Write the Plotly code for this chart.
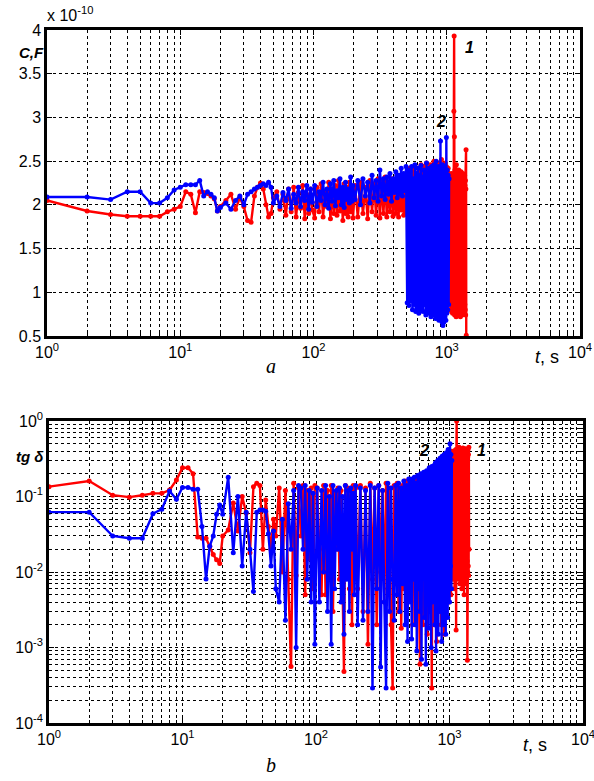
import plotly.graph_objects as go

# ---------------- data ----------------
t_common = [1,2,3,4,5,6,7,8,9,10,11,12,13,14,15,16,17,18,19,20,
            22,24,26,28,30,32,34,36,38,40,42,44,46,48,50,
            53,56,59,62,65,68,71,74,77,80,83,86,89,92,95,98,
            102,106,110,114,118,122,126,130,134,138,142,146,150,154,158,162,166,170,174,178,182,186,190,194,198,
            205,215,225,235,245,255,265,275,285,295,305,315,325,335,345,355,365,375,385,395,405,415,425,435,445,455,465,475,485,495,
            505,513,521,529,537,545,553,561,569,577,585,593,601,609,617,625,633,641,649,657,665,673,681,689,697,705,713,721,729,737,
            745,753,761,769,777,785,793,801,809,817,825,833,841,849,857,865,873,881,889,897,905,913,921,929,937,945,953,961,969,977,
            985,993,1001,1009,1017,1025,1033,1041]
t_red_tail = [1046,1051,1056,1061,1066,1071,1076,1081,1086,1091,1096,1101,1106,1111,1116,1121,1126,1131,1136,1141,
              1146,1151,1156,1161,1166,1171,1176,1181,1186,1191,1196,1201,1206,1211,1216,1221,1226,1231,1236,1241,
              1246,1251,1256,1261,1266,1271,1276,1281,1286,1291,1296,1301,1306,1311,1316,1321,1326,1331,1336,1341,
              1346,1351,1356,1361,1366,1371,1376,1381,1386,1391,1396,1401]
t_blue = t_common
t_red = t_common + t_red_tail

# capacitance, units of 1e-10 F
c_blue = [2.09,2.09,2.06,2.15,2.15,2.02,2.02,2.08,2.17,2.20,2.23,2.23,2.23,2.28,2.10,2.15,2.12,2.08,1.93,1.97,
          2.02,1.95,2.05,2.10,2.00,2.12,2.15,2.18,2.20,2.22,2.24,2.22,2.26,2.20,2.02,
          2.10,1.98,2.14,2.05,2.18,1.96,2.12,2.02,2.20,1.98,2.15,2.05,2.22,1.95,2.18,2.03,
          2.22,1.98,2.15,2.05,2.26,2.00,2.18,1.96,2.24,2.04,2.28,1.99,2.16,2.08,2.30,2.00,2.20,1.97,2.26,2.06,2.18,2.02,2.32,2.04,2.22,
          2.06,2.28,2.00,2.30,2.10,2.26,2.02,2.34,2.08,2.28,2.04,2.40,2.10,2.30,2.06,2.32,2.12,2.36,2.04,2.30,2.14,2.38,2.08,2.34,2.12,2.42,2.10,2.36,2.16,2.44,
          0.88,2.40,0.85,2.38,0.90,2.44,0.80,2.30,0.86,2.46,
          0.78,2.36,0.82,2.42,0.76,2.34,0.84,2.45,0.80,2.32,
          0.78,2.40,0.86,2.38,0.74,2.48,0.80,2.36,0.76,2.42,
          0.82,2.34,0.72,2.44,0.78,2.38,0.74,2.46,0.80,2.40,
          0.70,2.50,0.76,2.36,0.72,2.44,0.68,2.42,0.74,2.73,
          0.70,2.40,0.66,2.46,0.62,2.38,0.66,2.44,0.72,2.36,
          0.68,2.77,0.76,2.40,0.80,2.34,0.86,2.30]
c_red = [2.05,1.93,1.89,1.87,1.87,1.87,1.87,1.92,1.95,1.98,2.15,2.12,1.91,2.15,2.14,2.13,2.10,2.07,1.93,1.98,
         2.05,2.12,1.95,2.08,1.98,1.82,1.80,2.10,2.20,2.25,2.18,2.00,1.86,1.90,2.08,
         2.15,1.95,2.12,1.88,2.18,1.92,2.20,1.86,2.14,1.96,2.22,1.84,2.12,1.90,2.18,1.94,
         1.85,2.20,1.92,2.24,1.86,2.15,1.98,2.26,1.84,2.18,1.90,2.22,1.88,2.28,1.93,2.16,1.82,2.24,1.90,2.20,1.86,2.26,1.92,2.18,1.85,
         2.22,1.86,2.26,1.90,2.20,1.84,2.28,1.92,2.24,1.88,2.30,1.85,2.26,1.90,2.32,1.86,2.22,1.92,2.30,1.87,2.28,1.90,2.34,1.86,2.26,1.94,2.32,1.88,2.30,1.92,
         1.95,2.38,1.90,2.42,1.98,2.35,1.88,2.40,1.96,2.44,
         1.92,2.36,1.90,2.42,2.00,2.38,1.88,2.46,1.94,2.40,
         1.90,2.44,1.98,2.36,1.92,2.48,1.88,2.42,1.96,2.40,
         1.90,2.46,1.94,2.38,1.86,2.44,1.92,2.50,1.98,2.40,
         1.90,2.46,1.94,2.42,1.88,2.48,1.96,2.40,1.92,2.44,
         1.90,2.52,1.94,2.42,1.88,2.46,1.96,2.40,1.92,2.48,
         1.90,2.44,1.94,2.38,1.96,2.42,1.92,2.36,
         0.95,2.30,0.88,2.25,0.80,2.34,0.92,2.20,0.78,2.36,
         0.85,2.28,0.76,2.32,0.90,2.22,0.82,3.07,3.93,2.78,
         0.74,2.40,0.88,2.30,0.80,2.26,0.72,2.46,0.86,2.32,
         0.78,2.24,0.92,2.36,0.74,2.28,0.84,2.40,0.76,2.30,
         0.90,2.22,0.80,2.34,0.72,2.26,0.86,2.38,0.78,2.28,
         0.82,2.32,0.74,2.24,0.88,2.36,0.80,2.20,0.76,2.30,
         0.84,2.26,0.78,2.34,0.86,2.22,0.80,2.28,0.74,2.18,2.63,0.51]

# loss tangent
tg_blue = [0.062,0.062,0.030,0.028,0.028,0.059,0.068,0.118,0.092,0.132,0.132,0.125,0.125,0.040,0.0081,0.022,0.030,0.058,0.077,0.058,
           0.18,0.018,0.10,0.012,0.062,0.02,0.0055,0.062,0.066,0.066,0.064,0.032,0.012,0.035,0.006,
           0.004,0.05,0.0023,0.08,0.02,0.12,0.001,0.14,0.13,0.02,0.14,0.008,0.12,0.004,0.11,0.0011,
           0.13,0.004,0.12,0.01,0.14,0.003,0.1,0.0011,0.14,0.006,0.12,0.02,0.13,0.004,0.1,0.0015,0.14,0.008,0.12,0.003,0.13,0.02,0.11,0.005,0.14,
           0.002,0.13,0.0023,0.12,0.003,0.14,0.00029,0.13,0.006,0.14,0.00055,0.12,0.004,0.00029,0.15,0.003,0.13,0.008,0.0023,0.14,0.005,0.15,0.003,0.13,0.007,0.16,0.002,0.14,0.0012,0.17,
           0.004,0.17,0.0013,0.16,0.008,0.18,0.002,0.15,0.0009,0.19,
           0.006,0.17,0.003,0.2,0.0007,0.18,0.01,0.21,0.0025,0.19,
           0.0006,0.22,0.005,0.2,0.0018,0.24,0.008,0.22,0.001,0.25,
           0.004,0.23,0.012,0.26,0.002,0.28,0.0009,0.25,0.006,0.3,
           0.0015,0.27,0.01,0.32,0.003,0.29,0.0012,0.34,0.007,0.3,
           0.002,0.36,0.009,0.33,0.0015,0.38,0.005,0.35,0.0025,0.42,
           0.008,0.38,0.004,0.5,0.012,0.36,0.006,0.3]
tg_red = [0.135,0.16,0.104,0.098,0.104,0.11,0.11,0.122,0.165,0.24,0.24,0.2,0.029,0.028,0.028,0.022,0.017,0.0145,0.013,0.03,
          0.036,0.082,0.035,0.1,0.06,0.018,0.135,0.15,0.14,0.02,0.09,0.04,0.02,0.05,0.03,
          0.13,0.01,0.12,0.008,0.00056,0.15,0.009,0.13,0.03,0.14,0.005,0.12,0.015,0.13,0.006,0.14,
          0.13,0.02,0.005,0.14,0.005,0.12,0.015,0.14,0.003,0.11,0.02,0.13,0.008,0.12,0.004,0.00048,0.14,0.01,0.13,0.006,0.12,0.002,0.14,0.009,0.13,
          0.006,0.14,0.003,0.13,0.0011,0.15,0.008,0.13,0.002,0.14,0.01,0.12,0.004,0.15,0.006,0.13,0.002,0.00029,0.14,0.007,0.15,0.003,0.13,0.0018,0.14,0.006,0.16,0.004,0.15,0.008,
          0.15,0.005,0.16,0.002,0.14,0.01,0.17,0.004,0.15,0.008,
          0.18,0.003,0.0006,0.16,0.006,0.19,0.002,0.17,0.012,0.2,
          0.004,0.18,0.0015,0.21,0.007,0.19,0.003,0.22,0.009,0.00029,
          0.2,0.005,0.24,0.002,0.22,0.008,0.26,0.0012,0.23,0.006,
          0.28,0.003,0.25,0.01,0.3,0.002,0.27,0.007,0.32,0.004,
          0.29,0.0015,0.34,0.009,0.31,0.003,0.36,0.006,0.33,0.012,
          0.38,0.004,0.35,0.008,0.4,0.005,0.36,0.01,
          0.3,0.012,0.35,0.008,0.28,0.015,0.4,0.01,0.32,0.006,
          0.38,0.012,0.3,0.009,0.42,0.0017,0.34,1.0,0.02,0.36,
          0.01,0.3,0.015,0.4,0.008,0.33,0.012,0.45,0.01,0.3,
          0.007,0.38,0.014,0.32,0.009,0.42,0.011,0.35,0.006,0.4,
          0.012,0.3,0.008,0.44,0.015,0.34,0.01,0.38,0.005,0.32,
          0.013,0.4,0.009,0.36,0.011,0.43,0.007,0.3,0.012,0.38,
          0.008,0.35,0.014,0.00068,0.33,0.01,0.42,0.012,0.36,0.009,0.45,0.02]

x_tickvals = [1, 10, 100, 1000, 10000]
x_ticktext = ["10<sup>0</sup>", "10<sup>1</sup>", "10<sup>2</sup>", "10<sup>3</sup>", "10<sup>4</sup>"]
c_tickvals = [0.5, 1, 1.5, 2, 2.5, 3, 3.5, 4]
c_ticktext = ["0.5", "1", "1.5", "2", "2.5", "3", "3.5", "4"]
tg_tickvals = [1e-4, 1e-3, 1e-2, 1e-1, 1]
tg_ticktext = ["10<sup>-4</sup>", "10<sup>-3</sup>", "10<sup>-2</sup>", "10<sup>-1</sup>", "10<sup>0</sup>"]

RED = "#FF0000"
BLUE = "#0000FF"

W, H = 594, 781
def px_x(v): return v / W
def px_y(v): return 1 - v / H

fig = go.Figure()
line_w = 2.4
msize = 5
fig.add_trace(go.Scatter(x=t_red, y=c_red, mode="lines+markers", line=dict(color=RED, width=line_w),
                         marker=dict(color=RED, size=msize), xaxis="x", yaxis="y", showlegend=False))
fig.add_trace(go.Scatter(x=t_blue, y=c_blue, mode="lines+markers", line=dict(color=BLUE, width=line_w),
                         marker=dict(color=BLUE, size=msize), xaxis="x", yaxis="y", showlegend=False))
fig.add_trace(go.Scatter(x=t_red, y=tg_red, mode="lines+markers", line=dict(color=RED, width=line_w),
                         marker=dict(color=RED, size=msize), xaxis="x2", yaxis="y2", showlegend=False))
fig.add_trace(go.Scatter(x=t_blue, y=tg_blue, mode="lines+markers", line=dict(color=BLUE, width=line_w),
                         marker=dict(color=BLUE, size=msize), xaxis="x2", yaxis="y2", showlegend=False))

tickfont = dict(family="Liberation Sans, Arial, sans-serif", size=16, color="black")
grid = dict(showgrid=True, gridcolor="black", gridwidth=1.2, griddash="dot")
axline = dict(showline=True, linecolor="black", linewidth=2.5, mirror="allticks", automargin=False,
              ticks="inside", ticklen=5, tickcolor="black", zeroline=False, tickfont=tickfont,
              ticklabeloverflow="allow")
minor_log = dict(ticks="inside", ticklen=3, tickcolor="black", showgrid=True,
                 gridcolor="black", gridwidth=1.2, griddash="dot", dtick="D1")

fig.update_layout(
    template="none",
    width=W, height=H, margin=dict(l=0, r=0, t=0, b=0, autoexpand=False),
    paper_bgcolor="white", plot_bgcolor="white",
    xaxis=dict(type="log", range=[0, 4], domain=[px_x(47), px_x(580)], anchor="y",
               tickvals=x_tickvals, ticktext=x_ticktext, minor=minor_log, **grid, **axline),
    yaxis=dict(range=[0.5, 4], domain=[px_y(336), px_y(30)], anchor="x",
               tickvals=c_tickvals, ticktext=c_ticktext, **grid, **axline),
    xaxis2=dict(type="log", range=[0, 4], domain=[px_x(49), px_x(583)], anchor="y2",
                tickvals=x_tickvals, ticktext=x_ticktext, minor=minor_log, **grid, **axline),
    yaxis2=dict(type="log", range=[-4, 0], domain=[px_y(723), px_y(421)], anchor="x2",
                tickvals=tg_tickvals, ticktext=tg_ticktext, minor=minor_log, **grid, **axline),
)

def ann(x, y, text, size=15, family="Liberation Sans, Arial, sans-serif", xanchor="center"):
    fig.add_annotation(x=px_x(x), y=px_y(y), xref="paper", yref="paper", text=text, showarrow=False,
                       font=dict(family=family, size=size, color="black"), xanchor=xanchor, yanchor="middle")

ann(45, 14, "x 10<sup>-10</sup>", size=16, xanchor="left")
ann(31, 52, "<b><i>C,F</i></b>", size=15)
ann(469, 47, "<b><i>1</i></b>", size=16)
ann(441, 122, "<b><i>2</i></b>", size=16)
ann(547, 357, "<i>t</i>, s", size=18)
ann(271, 366, "<i>a</i>", size=20, family="Liberation Serif, Times New Roman, serif")

ann(30, 456, "<b><i>tg δ</i></b>", size=15)
ann(424, 450, "<b><i>2</i></b>", size=16)
ann(481, 450, "<b><i>1</i></b>", size=16)
ann(535, 745, "<i>t</i>, s", size=18)
ann(271, 765, "<i>b</i>", size=20, family="Liberation Serif, Times New Roman, serif")

fig.write_html("out.html", config={"displayModeBar": False},
               post_script="document.body.style.margin='0px';")
